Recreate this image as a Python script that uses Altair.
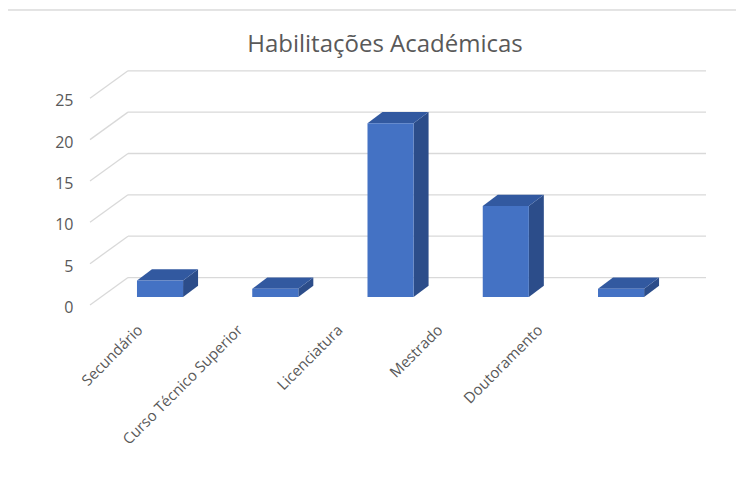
import altair as alt
import pandas as pd

categories = ["Secundário", "Curso Técnico Superior", "Licenciatura", "Mestrado", "Doutoramento"]
values = [2, 1, 21, 11, 1]
y_ticks = [0, 5, 10, 15, 20, 25]
title_text = "Habilitações Académicas"

FRONT = "#4472C4"
SIDE = "#2C4D8A"
TOP = "#3259A0"
GRID = "#D9D9D9"
TEXT = "#595959"
FONT = "Open Sans"

HALF = 0.2   # half bar width (category units)
DX = 0.13    # bar depth, horizontal (category units)
DY = 1.37    # bar depth, vertical (value units)

W, H = 618, 250
xs = alt.Scale(domain=[-0.125, 5.237], nice=False, zero=False)
ys = alt.Scale(domain=[-1.81, 28.42], nice=False, zero=False)
y_axis = alt.Axis(values=y_ticks, title=None, grid=False, ticks=False, tickSize=0, domain=False,
                  labelPadding=15, labelOffset=10.5, labelFontSize=16, labelColor=TEXT, labelFont=FONT)

front_rows, side_rows, top_rows = [], [], []
for i, (c, v) in enumerate(zip(categories, values)):
    xl, xr = i + 0.5 - HALF, i + 0.5 + HALF
    front_rows.append({"cat": c, "xl": xl, "xr": xr, "lo": 0, "hi": v})
    side_rows.append({"cat": c, "x": xr, "lo": 0, "hi": v})
    side_rows.append({"cat": c, "x": xr + DX, "lo": DY, "hi": v + DY})
    top_rows.append({"cat": c, "y": v, "xl": xl, "xr": xr})
    top_rows.append({"cat": c, "y": v + DY, "xl": xl + DX, "xr": xr + DX})

front_df = pd.DataFrame(front_rows)
side_df = pd.DataFrame(side_rows)
top_df = pd.DataFrame(top_rows)
tick_df = pd.DataFrame({"t": y_ticks})
cat_df = pd.DataFrame({"cat": categories})
title_df = pd.DataFrame({"title": [title_text]})

grid = alt.Chart(tick_df).mark_rule(color=GRID, strokeWidth=1.3, yOffset=-19.5).encode(
    y=alt.Y("t:Q", scale=ys, axis=y_axis),
    x=alt.value(40), x2=alt.value(W),
)
diag = alt.Chart(tick_df).mark_rule(color=GRID, strokeWidth=1.3, yOffset=8, y2Offset=-19.5).encode(
    y=alt.Y("t:Q", scale=ys, axis=y_axis), y2="t:Q",
    x=alt.value(2), x2=alt.value(40),
)

side = alt.Chart(side_df).mark_area(color=SIDE, orient="vertical").encode(
    x=alt.X("x:Q", scale=xs, axis=None),
    y=alt.Y("hi:Q", scale=ys, axis=y_axis, stack=None),
    y2="lo:Q",
    detail="cat:N",
)
top = alt.Chart(top_df).mark_area(color=TOP, orient="horizontal").encode(
    y=alt.Y("y:Q", scale=ys, axis=y_axis),
    x=alt.X("xl:Q", scale=xs, axis=None, stack=None),
    x2="xr:Q",
    detail="cat:N",
)
front = alt.Chart(front_df).mark_rect(color=FRONT).encode(
    x=alt.X("xl:Q", scale=xs, axis=None), x2="xr:Q",
    y=alt.Y("lo:Q", scale=ys, axis=y_axis), y2="hi:Q",
)

border_l = alt.Chart(cat_df).mark_rule(color="#E3E3E3", strokeWidth=1).encode(
    x=alt.value(-81), x2=alt.value(-81), y=alt.value(-52), y2=alt.value(411))
border_t = alt.Chart(cat_df).mark_rule(color="#E3E3E3", strokeWidth=1).encode(
    x=alt.value(-81), x2=alt.value(700), y=alt.value(-52), y2=alt.value(-52))

title = alt.Chart(title_df).mark_text(fontSize=24, color=TEXT, font=FONT, align="center",
                                      baseline="alphabetic").encode(
    text="title:N", x=alt.value(297), y=alt.value(-10))

bars = alt.layer(border_l, border_t, grid, diag, side, top, front, title)

labels = alt.Chart(cat_df).mark_point(opacity=0).encode(
    x=alt.X("cat:N", sort=categories,
            scale=alt.Scale(type="band", range=[2, 502], paddingInner=0, paddingOuter=0),
            axis=alt.Axis(orient="bottom", title=None, labelAngle=315, labelAlign="right",
                          labelBaseline="middle", labelPadding=15, ticks=False, tickSize=0,
                          domain=False, labelFontSize=15, labelColor=TEXT, labelFont=FONT)),
)

chart = alt.layer(bars, labels).resolve_scale(x="independent").properties(
    width=W, height=H,
    autosize=alt.AutoSizeParams(type="none"),
    padding={"left": 80, "top": 54, "right": 30, "bottom": 150},
).configure_view(stroke=None)

chart.save("out.html", embed_options={"renderer": "svg", "actions": False})
